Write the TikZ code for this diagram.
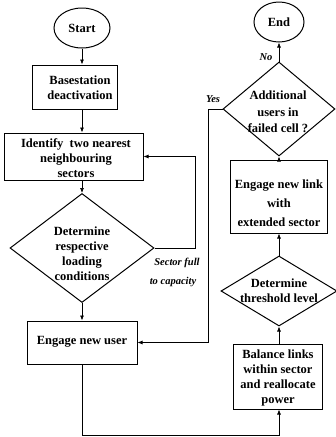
\documentclass[tikz,border=0pt]{standalone}
\usepackage{fontspec}
\setmainfont{Liberation Serif}
\usetikzlibrary{shapes.geometric,arrows.meta}
\begin{document}
\begin{tikzpicture}[x=1pt,y=-1pt,
  font=\fontsize{12.5}{15}\selectfont\bfseries,
  shp/.style={draw, line width=1pt, inner sep=0pt},
  boxn/.style={shp, rectangle},
  ovaln/.style={shp, ellipse},
  dian/.style={shp, diamond},
  txt/.style={align=center, inner sep=0pt},
  lbl/.style={font=\fontsize{10.5}{12}\selectfont\bfseries\itshape, inner sep=0pt},
  conn/.style={line width=0.7pt},
  arr/.style={conn, -{Latex[length=5pt,width=4pt]}}]
\useasboundingbox (0,0) rectangle (336,437);
% left column
\node[ovaln, minimum width=56pt, minimum height=40pt] (start) at (82,28) {Start};
\node[boxn, minimum width=85pt, minimum height=44pt] (b1) at (74.5,87) {};
\node[txt] (t1) at (80,88) {Basestation\\deactivation};
\node[boxn, minimum width=139pt, minimum height=47pt] (b2) at (73.5,156.5) {};
\node[txt] (t2) at (76,158) {Identify\ \ two nearest\\neighbouring\\sectors};
\node[dian, minimum width=144pt, minimum height=109pt] (d1) at (82,248) {};
\node[txt] (t3) at (82,254) {Determine\\respective\\loading\\conditions};
\node[boxn, minimum width=110pt, minimum height=43pt] (b3) at (82,342.5) {};
\node[txt] (t4) at (82,342) {Engage new user};
% right column
\node[ovaln, minimum width=50pt, minimum height=40pt] (end) at (279,22) {End};
\node[dian, minimum width=112pt, minimum height=94pt] (d3) at (279,109) {};
\node[txt, font=\fontsize{12.5}{16.5}\selectfont\bfseries] (t5) at (278,112) {Additional\\users in\\failed cell ?};
\node[boxn, minimum width=97pt, minimum height=73pt] (b5) at (278.5,196.5) {};
\node[txt, font=\fontsize{12.5}{19}\selectfont\bfseries] (t6) at (279,203) {Engage new link\\with\\extended sector};
\node[dian, minimum width=116pt, minimum height=70pt] (d2) at (279,291) {};
\node[txt] (t7) at (279,291) {Determine\\threshold level};
\node[boxn, minimum width=89pt, minimum height=65pt] (b4) at (277.5,376.5) {};
\node[txt] (t8) at (278,378) {Balance links\\within sector\\and reallocate\\power};
% helper coordinates
\coordinate (sfx) at (195,0);
\coordinate (yx) at (208,0);
\coordinate (bot) at (0,435);
% connectors
\draw[arr] (start.south) -- (start.south |- b1.north);
\draw[arr] (start.south |- b1.south) -- (start.south |- b2.north);
\draw[arr] (start.south |- b2.south) -- (d1.north);
\draw[arr] (d1.south) -- (b3.north);
\draw[arr] (d1.east) -| (sfx |- b2.east) -- (b2.east);
\draw[arr] (b3.south) -- (b3.south |- bot) -| (d2.south |- b4.south);
\draw[arr] (d2.south |- b4.north) -- (d2.south);
\draw[arr] (d2.north) -- (d2.north |- b5.south);
\draw[arr] (d3.south |- b5.north) -- (d3.south);
\draw[arr] (d3.north) -- (d3.north |- end.south);
\draw[arr] (d3.west) -| (yx |- b3.east) -- (b3.east);
% labels
\node[lbl] (lsf1) at (177,263) {Sector full};
\node[lbl] (lsf2) at (173,282) {to capacity};
\node[lbl] (lyes) at (213,99) {Yes};
\node[lbl] (lno) at (266,57) {No};
\end{tikzpicture}
\end{document}
